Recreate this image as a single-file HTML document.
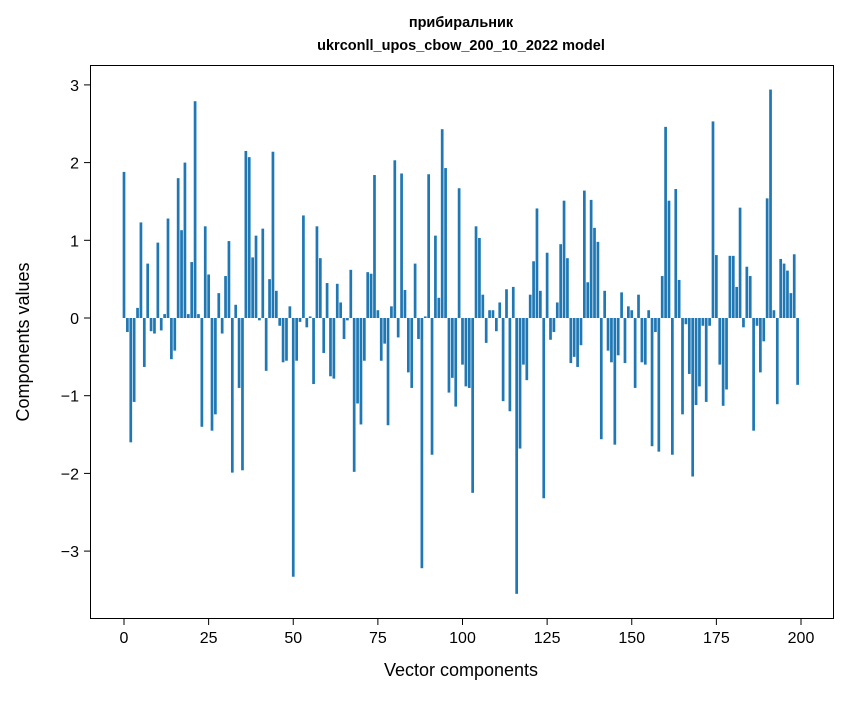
<!DOCTYPE html>
<html><head><meta charset="utf-8"><style>
body{margin:0;background:#fff;}
svg text{font-family:"Liberation Sans","DejaVu Sans",sans-serif;fill:#000;}
</style></head><body>
<svg id="chart" width="847" height="696" xmlns="http://www.w3.org/2000/svg">
<rect width="847" height="696" fill="#fff"/>
<text x="461" y="27" text-anchor="middle" font-size="14.5" font-weight="bold">прибиральник</text>
<text x="461" y="50" text-anchor="middle" font-size="14.5" font-weight="bold">ukrconll_upos_cbow_200_10_2022 model</text>
<g id="bars"></g>
<rect x="90.5" y="65.5" width="743" height="553" fill="none" stroke="#000" stroke-width="1"/>
<g id="xticks"></g>
<g id="yticks"></g>
<text x="461" y="676" text-anchor="middle" font-size="18">Vector components</text>
<text transform="translate(29,342) rotate(-90)" text-anchor="middle" font-size="18">Components values</text>
</svg>
<script>
const values=[1.88,-0.18,-1.6,-1.08,0.13,1.23,-0.63,0.7,-0.17,-0.2,0.97,-0.16,0.05,1.28,-0.53,-0.42,1.8,1.13,2.0,0.05,0.72,2.79,0.05,-1.4,1.18,0.56,-1.45,-1.24,0.32,-0.2,0.54,0.99,-1.99,0.17,-0.9,-1.96,2.15,2.07,0.78,1.06,-0.03,1.15,-0.68,0.5,2.14,0.35,-0.1,-0.57,-0.55,0.15,-3.33,-0.55,-0.05,1.32,-0.12,0.02,-0.85,1.18,0.77,-0.45,0.45,-0.75,-0.78,0.44,0.2,-0.27,-0.03,0.62,-1.98,-1.1,-1.37,-0.55,0.59,0.57,1.84,0.1,-0.55,-0.33,-1.38,0.15,2.03,-0.25,1.86,0.36,-0.7,-0.9,0.7,-0.27,-3.22,0.02,1.85,-1.76,1.06,0.26,2.43,1.93,-0.96,-0.77,-1.14,1.67,-0.6,-0.88,-0.9,-2.25,1.18,1.03,0.3,-0.32,0.1,0.1,-0.17,0.2,-1.07,0.37,-1.2,0.4,-3.55,-1.68,-0.6,-0.8,0.3,0.73,1.41,0.35,-2.32,0.84,-0.28,-0.18,0.2,0.95,1.51,0.77,-0.58,-0.5,-0.63,-0.35,1.64,0.46,1.52,1.16,0.98,-1.56,0.35,-0.42,-0.57,-1.63,-0.48,0.33,-0.58,0.15,0.1,-0.9,0.3,-0.57,-0.6,0.1,-1.65,-0.18,-1.72,0.54,2.46,1.51,-1.76,1.66,0.49,-1.24,-0.08,-0.72,-2.04,-1.12,-0.88,-0.1,-1.08,-0.1,2.53,0.81,-0.6,-1.13,-0.92,0.8,0.8,0.4,1.42,-0.12,0.66,0.54,-1.45,-0.1,-0.7,-0.3,1.54,2.94,0.1,-1.11,0.76,0.7,0.61,0.32,0.82,-0.86];
const xTicks=[0,25,50,75,100,125,150,175,200];
const yTicks=[-3,-2,-1,0,1,2,3];
const NS="http://www.w3.org/2000/svg";
function xs(v){return 124+v*3.385;}
function ys(v){return 318-v*77.7;}
const bars=document.getElementById('bars');
values.forEach((v,i)=>{
  const r=document.createElementNS(NS,'rect');
  
  
  const y0=ys(0),y1=ys(v);
  r.setAttribute('x',xs(i-0.4));
  r.setAttribute('width',0.8*3.385);
  r.setAttribute('y',Math.min(y0,y1));
  r.setAttribute('height',Math.abs(y1-y0));
  r.setAttribute('fill','#1f77b4');
  bars.appendChild(r);
});
const xg=document.getElementById('xticks');
xTicks.forEach(t=>{
  const l=document.createElementNS(NS,'line');
  
  
  l.setAttribute('x1',xs(t));l.setAttribute('x2',xs(t));
  l.setAttribute('y1',619);l.setAttribute('y2',625);
  l.setAttribute('stroke','#000');
  xg.appendChild(l);
  const tx=document.createElementNS(NS,'text');
  
  
  tx.setAttribute('x',xs(t));tx.setAttribute('y',643);
  tx.setAttribute('text-anchor','middle');tx.setAttribute('font-size','16');
  tx.textContent=t;
  xg.appendChild(tx);
});
const yg=document.getElementById('yticks');
yTicks.forEach(t=>{
  const l=document.createElementNS(NS,'line');
  
  
  l.setAttribute('x1',84);l.setAttribute('x2',90);
  l.setAttribute('y1',ys(t));l.setAttribute('y2',ys(t));
  l.setAttribute('stroke','#000');
  yg.appendChild(l);
  const tx=document.createElementNS(NS,'text');
  
  
  tx.setAttribute('x',79);tx.setAttribute('y',ys(t)+6);
  tx.setAttribute('text-anchor','end');tx.setAttribute('font-size','16');
  tx.textContent=t<0?'\u2212'+Math.abs(t):t;
  yg.appendChild(tx);
});
</script>
</body></html>
